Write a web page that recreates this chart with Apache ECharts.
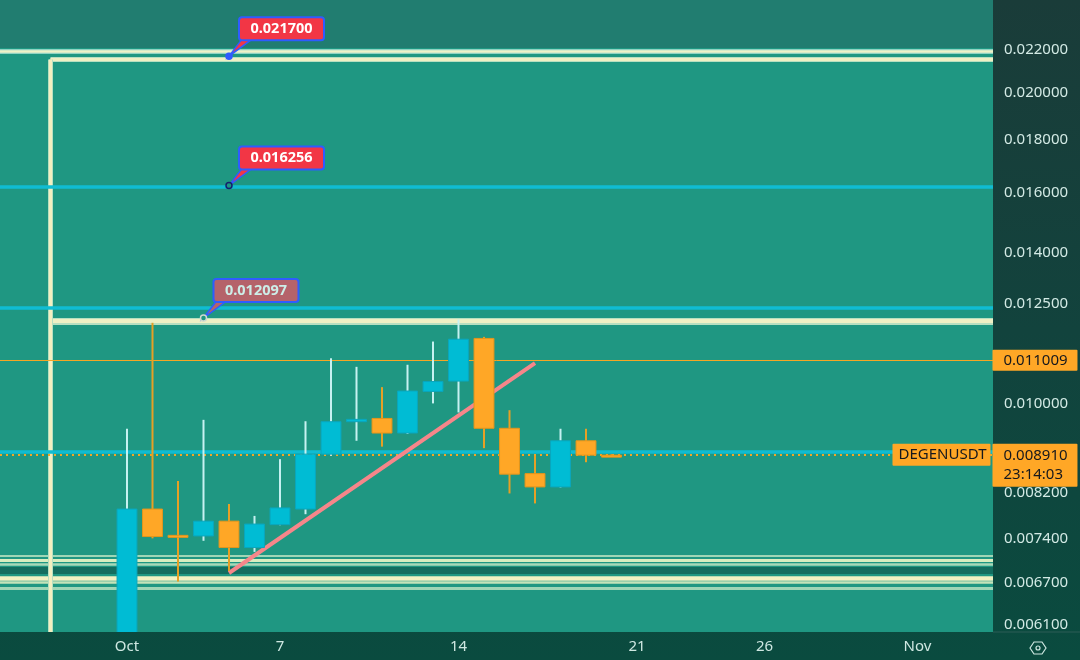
<!DOCTYPE html>
<html><head><meta charset="utf-8">
<script src="https://cdn.jsdelivr.net/npm/echarts@6/dist/echarts.min.js"></script>
<style>
html,body{margin:0;padding:0;}
#c{width:1080px;height:660px;background:linear-gradient(180deg,#1a3c39 0%,#12433d 50%,#0a4b3f 100%);}
</style>
</head><body><div id="c"></div>
<script>
// ---------- data ----------
const dates  = ['2024-10-01','2024-10-02','2024-10-03','2024-10-04','2024-10-05','2024-10-06','2024-10-07',
                '2024-10-08','2024-10-09','2024-10-10','2024-10-11','2024-10-12','2024-10-13','2024-10-14',
                '2024-10-15','2024-10-16','2024-10-17','2024-10-18','2024-10-19','2024-10-20'];
const opens  = [0.00550,0.00790,0.00745,0.00744,0.00769,0.00725,0.00763,0.00790,0.00893,0.00960,
                0.00967,0.00936,0.01027,0.01051,0.01156,0.00946,0.00855,0.00830,0.00920,0.00891];
const highs  = [0.00945,0.01197,0.00841,0.00964,0.00799,0.00778,0.00883,0.00961,0.01106,0.01085,
                0.01037,0.01090,0.01148,0.01206,0.01160,0.00985,0.00890,0.00945,0.00945,0.00893];
const lows   = [0.00500,0.00740,0.00672,0.00736,0.00688,0.00718,0.00762,0.00781,0.00890,0.00920,
                0.00908,0.00934,0.01000,0.00980,0.00905,0.00818,0.00800,0.00829,0.00877,0.00889];
const closes = [0.00790,0.00743,0.00744,0.00769,0.00725,0.00764,0.00792,0.00893,0.00960,0.00965,
                0.00936,0.01028,0.01050,0.01154,0.00946,0.00854,0.00830,0.00920,0.00891,0.00891];

const xTickDates  = ['2024-10-01','2024-10-07','2024-10-14','2024-10-21','2024-10-26','2024-11-01'];
const xTickLabels = ['Oct','7','14','21','26','Nov'];
const yTicks = [0.022,0.020,0.018,0.016,0.014,0.0125,0.010,0.0082,0.0074,0.0067,0.0061];

const calloutDates  = ['2024-10-05','2024-10-05','2024-10-04'];
const calloutValues = [0.021700,0.016256,0.012097];

const topLevel    = 0.02193;
const cyanLevels  = [0.01620,0.01237,0.00898];
const highLevel   = 0.011009;
const lastPrice   = 0.008910;
const boxStart    = '2024-09-28';
const boxTop      = 0.02154;
const boxMid      = 0.01202;
const bottomBands = [0.007115,0.007051,0.006988,0.006888,0.006773,0.006712,0.006624];
const trendDates  = ['2024-10-05','2024-10-17'];
const trendValues = [0.00685,0.01094];
const symbolName  = 'DEGENUSDT';
const countdown   = '23:14:03';

// ---------- helpers / styles ----------
const DAY0 = Date.parse('2024-10-01T00:00:00Z');
const D = s => (Date.parse(s + 'T00:00:00Z') - DAY0) / 864e5;
const X_MIN = -4.98, X_MAX = 33.96;
const Y_MIN = 0.0060049, Y_MAX = 0.024596;
const FONT = '"Noto Sans", "Open Sans", sans-serif';

const bandStyles = [
  {color:'#9fd6b6', width:2}, {color:'#d9edc0', width:3}, {color:'#a8d9b8', width:2.5},
  {color:'#146d5f', width:7}, {color:'#f1f1c2', width:4.5}, {color:'#c4e3b9', width:2.5},
  {color:'#9fd6b6', width:3}
];
const calloutStyles = [
  {fill:'#f23645', text:'#ffffff', dotFill:'#2f5cff', dotStroke:'#2f5cff'},
  {fill:'#f23645', text:'#ffffff', dotFill:'#1f9782', dotStroke:'#14206e'},
  {fill:'#b5636a', text:'#cdeee8', dotFill:'#1f9782', dotStroke:'#cfd8d0'}
];

const seg = (x1, y1, x2, y2, color, width, type) =>
  [{coord: [x1, y1], lineStyle: {color, width, type: type || 'solid'}}, {coord: [x2, y2]}];
const hl = (v, color, width, type) => seg(X_MIN, v, X_MAX, v, color, width, type);

const bx = D(boxStart);
const lineData = [];
bottomBands.forEach((v, i) => lineData.push(hl(v, bandStyles[i].color, bandStyles[i].width)));
lineData.push(hl(topLevel, '#8fd3c2', 5));
lineData.push(hl(topLevel, '#eef2c8', 2.5));
lineData.push(seg(bx, boxTop, X_MAX, boxTop, '#b7dfc0', 5));
lineData.push(seg(bx, boxTop, X_MAX, boxTop, '#eff0c4', 3));
lineData.push(seg(bx, boxMid, X_MAX, boxMid, '#b7dfc0', 7));
lineData.push(seg(bx, boxMid, X_MAX, boxMid, '#eff0c4', 4));
lineData.push(seg(bx, boxTop, bx, Y_MIN, '#b7dfc0', 5));
lineData.push(seg(bx, boxTop, bx, Y_MIN, '#f3efc0', 3));
cyanLevels.forEach(v => lineData.push(hl(v, '#10bcd2', 3.5)));
lineData.push(hl(highLevel, '#f5a623', 1));
lineData.push(hl(lastPrice, '#f5a623', 2, [2, 4]));
lineData.push(seg(D(trendDates[0]), trendValues[0], D(trendDates[1]), trendValues[1], '#f6868a', 4));

const boxLabel = {
  show: true, color: '#16181d', fontSize: 15, fontFamily: FONT,
  backgroundColor: '#ffa726', borderRadius: 1
};

const chart = echarts.init(document.getElementById('c'), null, {renderer: 'canvas'});
chart.setOption({
  animation: false,
  backgroundColor: 'transparent',
  grid: {left: 0, right: 87, top: 0, bottom: 28, show: true, backgroundColor: '#1f9782', borderWidth: 0},
  xAxis: {
    type: 'value', min: X_MIN, max: X_MAX,
    axisLine: {show: false}, axisTick: {show: false}, splitLine: {show: false},
    axisLabel: {
      customValues: xTickDates.map(D),
      formatter: v => { const i = xTickDates.map(D).findIndex(d => Math.abs(d - v) < 0.01); return i >= 0 ? xTickLabels[i] : ''; },
      color: '#cfe8e2', fontSize: 15, fontFamily: FONT, margin: 7
    }
  },
  yAxis: {
    type: 'log', logBase: 10, min: Y_MIN, max: Y_MAX, position: 'right',
    axisLine: {show: false}, axisTick: {show: false}, splitLine: {show: false},
    axisLabel: {
      customValues: yTicks,
      formatter: v => Number(v).toFixed(6),
      color: '#d3eae5', fontSize: 15, fontFamily: FONT, margin: 11
    }
  },
  series: [
    {
      name: 'levels', type: 'line', data: [], z: 1, silent: true,
      markArea: {silent: true, z: 0, itemStyle: {color: '#217d70'},
                 data: [[{coord: [X_MIN, 0.0221]}, {coord: [X_MAX, Y_MAX]}]]},
      markLine: {silent: true, z: 1, symbol: ['none', 'none'], label: {show: false}, data: lineData}
    },
    {
      name: 'DEGENUSDT', type: 'custom', z: 3, clip: true, silent: true,
      encode: {x: 0, y: [1, 2, 3, 4]},
      data: dates.map((d, i) => [D(d), opens[i], closes[i], lows[i], highs[i]]),
      renderItem(params, api) {
        const x = api.value(0), o = api.value(1), c = api.value(2), l = api.value(3), h = api.value(4);
        const pO = api.coord([x, o]), pC = api.coord([x, c]), pL = api.coord([x, l]), pH = api.coord([x, h]);
        const left = api.coord([x - 0.39, o])[0], right = api.coord([x + 0.39, o])[0];
        const up = c > o;
        const top = Math.min(pO[1], pC[1]), bot = Math.max(pO[1], pC[1]);
        return {type: 'group', children: [
          {type: 'rect', shape: {x: pO[0] - 1, y: pH[1], width: 2, height: pL[1] - pH[1]},
           style: {fill: up ? '#c6f1f1' : '#e6a024'}},
          {type: 'rect', shape: {x: left, y: top, width: right - left, height: Math.max(bot - top, 2)},
           style: {fill: up ? '#00bcd4' : '#ffa726', stroke: up ? '#0aa6bd' : '#e3951c', lineWidth: 1}}
        ]};
      }
    },
    {
      name: 'callouts', type: 'custom', z: 5, clip: false, silent: true,
      encode: {x: 0, y: 1},
      data: calloutDates.map((d, i) => [D(d), calloutValues[i], i]),
      renderItem(params, api) {
        const i = api.value(2);
        const st = calloutStyles[i];
        const p = api.coord([api.value(0), api.value(1)]);
        const ax = p[0], ay = p[1];
        return {type: 'group', children: [
          {type: 'polygon', shape: {points: [[ax, ay], [ax + 13, ay - 17], [ax + 23, ay - 17]]},
           style: {fill: st.fill, stroke: '#2f5cff', lineWidth: 1.5}},
          {type: 'rect', shape: {x: ax + 10, y: ay - 39, width: 85, height: 23, r: 3},
           style: {fill: st.fill, stroke: '#2f5cff', lineWidth: 2}},
          {type: 'text', style: {x: ax + 52.5, y: ay - 27.5, text: calloutValues[i].toFixed(6),
            fill: st.text, font: 'bold 14.5px ' + FONT, align: 'center', verticalAlign: 'middle'}},
          {type: 'circle', shape: {cx: ax, cy: ay, r: 3},
           style: {fill: st.dotFill, stroke: st.dotStroke, lineWidth: 1.5}}
        ]};
      }
    },
    {
      name: 'priceLabels', type: 'line', data: [], z: 6, silent: true,
      markPoint: {
        silent: true, z: 10, symbol: 'circle', symbolSize: 1, itemStyle: {color: 'transparent'},
        data: [
          {coord: [X_MAX - 0.001, highLevel],
           label: Object.assign({}, boxLabel, {position: [0, -10], formatter: highLevel.toFixed(6),
             padding: [2, 6, 1, 11], width: 68, lineHeight: 18})},
          {coord: [X_MAX - 0.001, lastPrice],
           label: Object.assign({}, boxLabel, {position: [0, -11], formatter: lastPrice.toFixed(6) + '\n' + countdown,
             padding: [3, 6, 2, 11], width: 68, lineHeight: 19})},
          {coord: [X_MAX - 0.001, lastPrice],
           label: Object.assign({}, boxLabel, {position: [-100, -11], formatter: symbolName,
             padding: [2, 6, 2, 6], width: 86, lineHeight: 18})}
        ]
      }
    }
  ],
  graphic: [
    {type: 'line', shape: {x1: 993, y1: 632, x2: 1080, y2: 632}, style: {stroke: '#2c5d56', lineWidth: 1}},
    {type: 'polygon', shape: {points: [[1030, 648], [1034, 642], [1042, 642], [1046, 648], [1042, 654], [1034, 654]]},
     style: {fill: 'none', stroke: '#cfe8e2', lineWidth: 1.2}},
    {type: 'circle', shape: {cx: 1038, cy: 648, r: 2}, style: {fill: 'none', stroke: '#cfe8e2', lineWidth: 1.2}}
  ]
});
</script>
</body></html>
